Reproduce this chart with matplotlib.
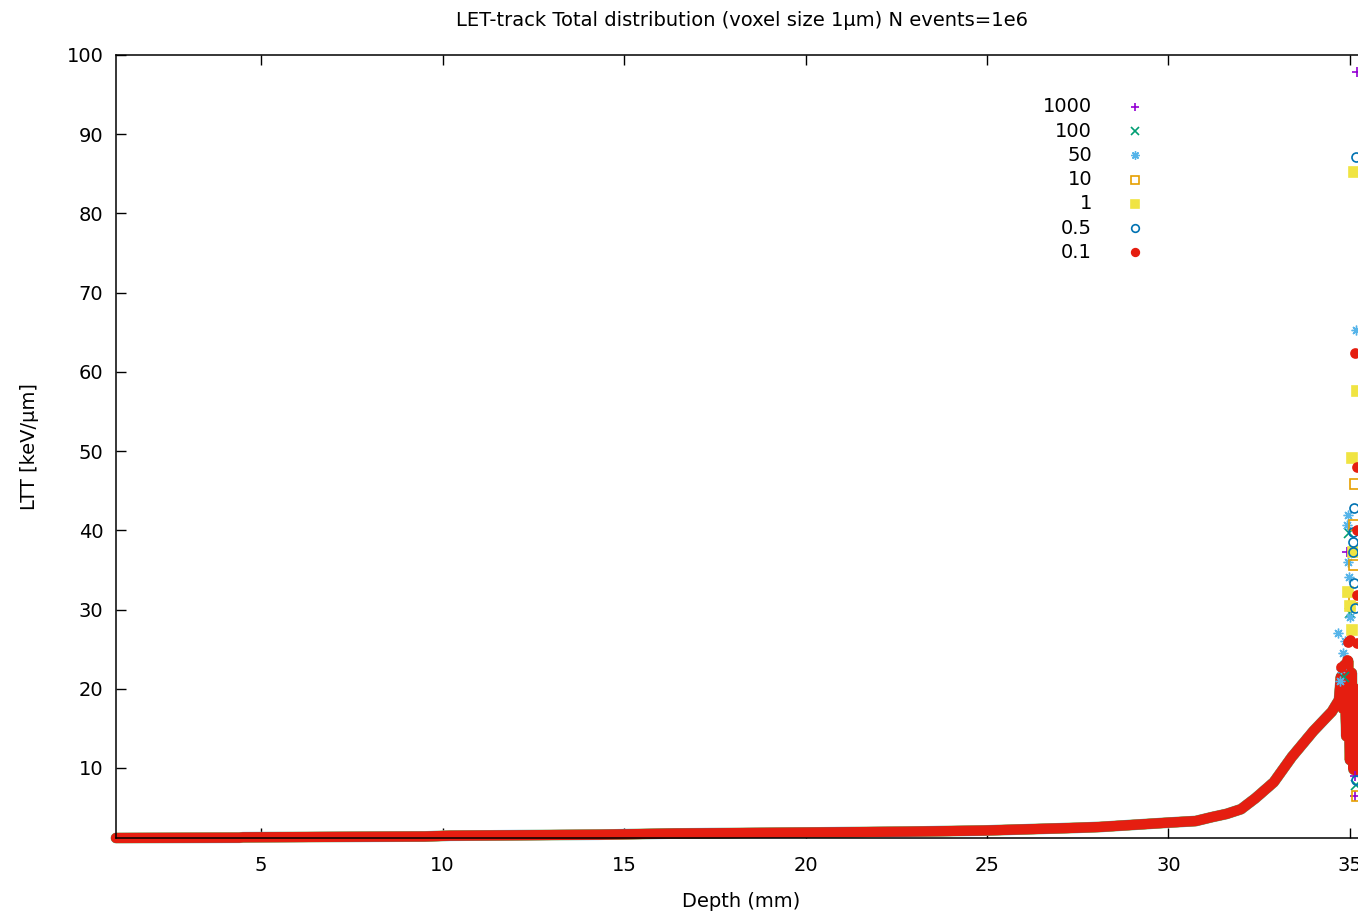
import matplotlib
matplotlib.use("Agg")
import matplotlib.pyplot as plt

plt.rcParams['font.family'] = ['DejaVu Sans']

# ---------------- data ----------------
series_names = ["1000", "100", "50", "10", "1", "0.5", "0.1"]
series_colors = ["#9400d3", "#009e73", "#56b4e9", "#e69f00", "#f0e442", "#0072b2", "#e51e10"]
series_markers = ["+", "x", "ast", "s", "s", "o", "o"]
series_filled = [True, True, True, False, True, False, True]

# main LTT curve vs depth
depth_curve = [1.0, 4.4, 4.5, 9.5, 10.2, 14.3, 16.4, 20.0, 22.8, 24.9, 27.5, 28.1,
               30.0, 30.75, 31.2, 31.6, 32.0, 32.4, 32.9, 33.4, 34.0, 34.5, 34.7,
               34.75, 34.8, 34.85, 34.9, 34.95, 35.0, 35.05, 35.1, 35.15, 35.2]
ltt_curve = [1.16, 1.2, 1.25, 1.35, 1.45, 1.58, 1.73, 1.85, 1.96, 2.1, 2.45, 2.55,
             3.1, 3.3, 3.8, 4.2, 4.8, 6.2, 8.2, 11.4, 14.7, 17.1, 18.6,
             21.5, 17.5, 23.0, 14.0, 23.5, 11.0, 22.0, 9.8, 20.0, 9.5]

# scattered points around the Bragg peak, per series
scatter_depth = {
    "1000": [35.19, 34.91, 35.15, 35.13],
    "100": [34.97, 35.0, 35.16, 34.85],
    "50": [35.17, 34.94, 34.91, 34.94, 34.97, 34.67, 34.8, 34.75, 34.72, 34.86, 35.0],
    "10": [35.14, 35.11, 35.11, 35.11, 35.19],
    "1": [35.11, 35.2, 35.06, 35.08, 34.94, 35.06, 35.0],
    "0.5": [35.17, 35.11, 35.08, 35.08, 35.08, 35.11, 35.14, 35.16],
    "0.1": [35.14, 35.19, 35.19, 35.19, 35.0, 35.19, 34.95, 34.92, 34.76],
}
scatter_ltt = {
    "1000": [97.9, 37.3, 9.0, 6.5],
    "100": [39.7, 29.6, 7.8, 21.5],
    "50": [65.3, 41.9, 40.7, 36.0, 34.1, 27.0, 24.5, 22.5, 21.0, 26.0, 29.0],
    "10": [45.9, 40.7, 35.6, 31.5, 6.5],
    "1": [85.2, 57.6, 49.1, 37.3, 32.2, 27.4, 30.5],
    "0.5": [87.1, 42.8, 39.8, 38.5, 37.3, 33.4, 30.2, 8.5],
    "0.1": [62.4, 48.0, 40.0, 31.8, 26.2, 25.8, 25.9, 23.6, 22.7],
}

x_ticks = [5, 10, 15, 20, 25, 30, 35]
y_ticks = [10, 20, 30, 40, 50, 60, 70, 80, 90, 100]

# ---------------- figure ----------------
W, H = 1358, 915
fig = plt.figure(figsize=(W / 100, H / 100), dpi=100)
ax = fig.add_axes([116 / W, (H - 838) / H, 1251 / W, 783 / H])
ax.set_xlim(1.0, 35.47)
ax.set_ylim(1.16, 100)

fs = 14
curve_lw = [7.2, 7.2, 7.8, 7.2, 7.6, 7.2, 7.3]
for name, col, lw in zip(series_names, series_colors, curve_lw):
    ax.plot(depth_curve, ltt_curve, color=col, lw=lw, solid_capstyle='round',
            solid_joinstyle='round', clip_on=False, zorder=2)

def mk_kwargs(col, m, filled, ms=6.5):
    kw = dict(linestyle='none', ms=ms, mew=1.2)
    if m in ('+', 'x'):
        kw.update(marker=m, color=col)
    elif m == 'ast':
        kw.update(marker=(8, 2, 0), color=col, mec=col, ms=ms + 0.5, mew=1.0)
    elif filled:
        kw.update(marker=m, mfc=col, mec=col)
    else:
        kw.update(marker=m, mfc='none', mec=col)
    return kw

for name, col, m, f in zip(series_names, series_colors, series_markers, series_filled):
    ax.plot(scatter_depth[name], scatter_ltt[name], clip_on=False, zorder=3,
            **mk_kwargs(col, m, f))

# key (gnuplot style: right-aligned text, marker to its right)
for i, (name, col, m, f) in enumerate(zip(series_names, series_colors, series_markers, series_filled)):
    yy = 1 - (107 - 55 + i * 24.2) / 783
    ax.text((1092 - 116) / 1251, yy, name, transform=ax.transAxes, ha='right',
            va='center', fontsize=fs)
    ax.plot([(1135 - 116) / 1251], [yy], transform=ax.transAxes, clip_on=False,
            **mk_kwargs(col, m, f, ms=5.5))

ax.set_xticks(x_ticks)
ax.set_yticks(y_ticks)
ax.tick_params(direction='in', length=7, width=1.0, top=True, right=False,
               labelsize=fs, colors='black')
ax.tick_params(axis='x', pad=13)
ax.tick_params(axis='y', pad=9)
for s in ax.spines.values():
    s.set_linewidth(1.1)
    s.set_zorder(4)

ax.set_xlabel("Depth (mm)", fontsize=fs, labelpad=12)
ax.set_ylabel("LTT [keV/µm]", fontsize=fs, labelpad=20)
fig.text(742 / W, 1 - 20 / H, "LET-track Total distribution (voxel size 1µm) N events=1e6",
         ha='center', va='center', fontsize=fs)

fig.savefig("out.png", dpi=100)
